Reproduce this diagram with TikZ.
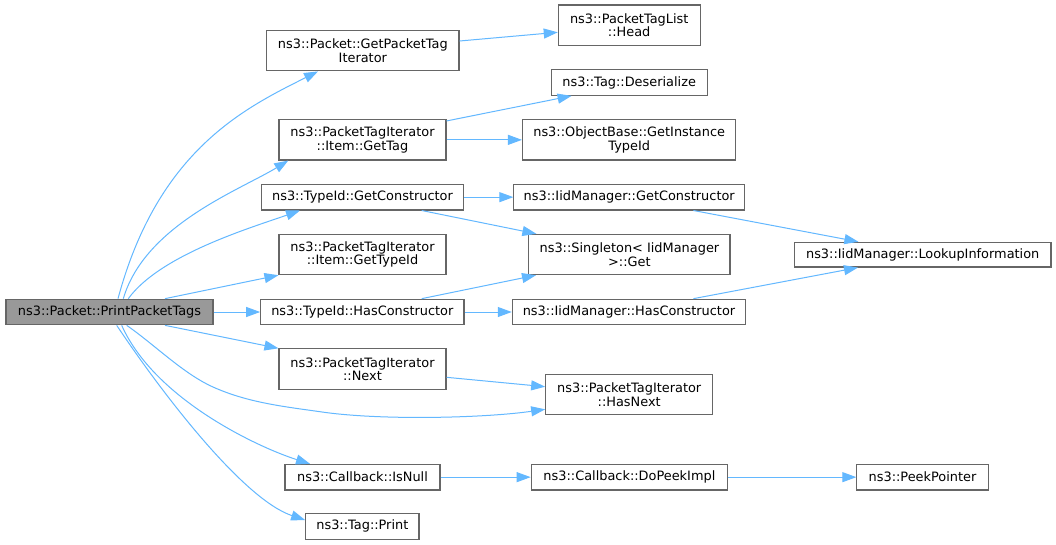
\documentclass[tikz,border=0pt]{standalone}
\usepackage{fontspec}
\setmainfont{DejaVu Sans}
\usetikzlibrary{arrows.meta}
\definecolor{edgec}{HTML}{63B8FF}
\definecolor{boxc}{HTML}{666666}
\definecolor{rootc}{HTML}{999999}
\tikzset{
  box/.style={draw=boxc, line width=1.1pt, fill=white, inner sep=0pt, align=center, text=black},
  rootbox/.style={box, fill=rootc},
  one/.style={minimum height=25.6pt},
  two/.style={minimum height=40.3pt},
  edge/.style={draw=edgec, line width=1pt, -{Triangle[length=14pt,width=10pt]}}
}
\begin{document}
\begin{tikzpicture}[x=1pt,y=-1pt,font=\fontsize{12.9}{13.4}\selectfont]
\fill[white] (0,0) rectangle (1056,544);
\useasboundingbox (0,0) rectangle (1056,544);
% column 0
\node[rootbox, one, minimum width=207pt] (root) at (109.5,312) {ns3::Packet::PrintPacketTags};
% column 1
\node[box, two, minimum width=192.3pt] (gpti) at (362.85,50.7) {ns3::Packet::GetPacketTag\\Iterator};
\node[box, two, minimum width=167pt] (gettag) at (362.5,139.85) {ns3::PacketTagIterator\\::Item::GetTag};
\node[box, one, minimum width=201.6pt] (tgc) at (362.5,197.15) {ns3::TypeId::GetConstructor};
\node[box, two, minimum width=167pt] (gtid) at (362.5,254.5) {ns3::PacketTagIterator\\::Item::GetTypeId};
\node[box, one, minimum width=203.3pt] (thc) at (362.35,312) {ns3::TypeId::HasConstructor};
\node[box, two, minimum width=167pt] (next) at (362.5,369) {ns3::PacketTagIterator\\::Next};
\node[box, one, minimum width=155pt] (isnull) at (362.5,477.15) {ns3::Callback::IsNull};
\node[box, one, minimum width=113.3pt] (print) at (362.35,526.35) {ns3::Tag::Print};
% column 2
\node[box, two, minimum width=141.8pt] (head) at (629.2,25.15) {ns3::PacketTagList\\::Head};
\node[box, one, minimum width=156pt] (deser) at (629.2,82.5) {ns3::Tag::Deserialize};
\node[box, two, minimum width=213.4pt] (gitid) at (629.2,139.85) {ns3::ObjectBase::GetInstance\\TypeId};
\node[box, one, minimum width=230.6pt] (igc) at (629.2,197.15) {ns3::IidManager::GetConstructor};
\node[box, two, minimum width=201.2pt] (sget) at (629.4,254.5) {ns3::Singleton< IidManager\\>::Get};
\node[box, one, minimum width=233.4pt] (ihc) at (629,312) {ns3::IidManager::HasConstructor};
\node[box, two, minimum width=167pt] (hasnext) at (629.2,394.7) {ns3::PacketTagIterator\\::HasNext};
\node[box, one, minimum width=196.4pt] (dopeek) at (629.4,477.15) {ns3::Callback::DoPeekImpl};
% column 3
\node[box, one, minimum width=256.6pt, minimum height=24.7pt] (lookup) at (922.7,254.65) {ns3::IidManager::LookupInformation};
\node[box, one, minimum width=131.2pt] (peek) at (922.5,477.15) {ns3::PeekPointer};
% edges from root
\draw[edge] ([xshift=8.5pt]root.north) .. controls (158,150) and (245,108) .. ([xshift=-44.85pt]gpti.south);
\draw[edge] ([xshift=13.8pt]root.north) .. controls (145,225) and (240,190) .. ([xshift=-74.2pt]gettag.south);
\draw[edge] ([xshift=18.8pt]root.north) .. controls (160,255) and (250,228) .. ([xshift=-62.5pt]tgc.south);
\draw[edge] ([xshift=55.5pt]root.north) -- (gtid.south west);
\draw[edge] (root.east) -- (thc.west);
\draw[edge] ([xshift=55.5pt]root.south) -- (next.north west);
\draw[edge] ([xshift=17.2pt]root.south) .. controls (155,345) and (183,373.5) .. (213,387)
   .. controls (248,402.75) and (285,406.7) .. (320,411.7)
   .. controls (380,420.7) and (485,418) .. ([yshift=-14.6pt]hasnext.west);
\draw[edge] ([xshift=12.2pt]root.south) .. controls (155,400) and (260,448) .. ([xshift=-52.5pt]isnull.north);
\draw[edge] ([xshift=7.2pt]root.south) .. controls (166.7,400) and (245,500) .. ([yshift=6.35pt]print.west);
% other edges
\draw[edge] ([yshift=9.7pt]gpti.east) -- ([yshift=-7.15pt]head.west);
\draw[edge] ([yshift=-1.8pt]gettag.north east) -- ([xshift=-57.6pt]deser.south);
\draw[edge] (gettag.east) -- (gitid.west);
\draw[edge] (tgc.east) -- (igc.west);
\draw[edge] ([xshift=59.2pt]tgc.south) -- ([xshift=-93pt]sget.north);
\draw[edge] ([xshift=64.2pt]igc.south) -- ([xshift=-64.3pt]lookup.north);
\draw[edge] ([xshift=59.4pt]thc.north) -- ([xshift=-93.4pt]sget.south);
\draw[edge] (thc.east) -- (ihc.west);
\draw[edge] ([xshift=64.4pt]ihc.north) -- ([xshift=-64.7pt]lookup.south);
\draw[edge] ([yshift=-8.3pt]next.east) -- ([yshift=8pt]hasnext.west);
\draw[edge] (isnull.east) -- (dopeek.west);
\draw[edge] (dopeek.east) -- (peek.west);
\end{tikzpicture}
\end{document}
